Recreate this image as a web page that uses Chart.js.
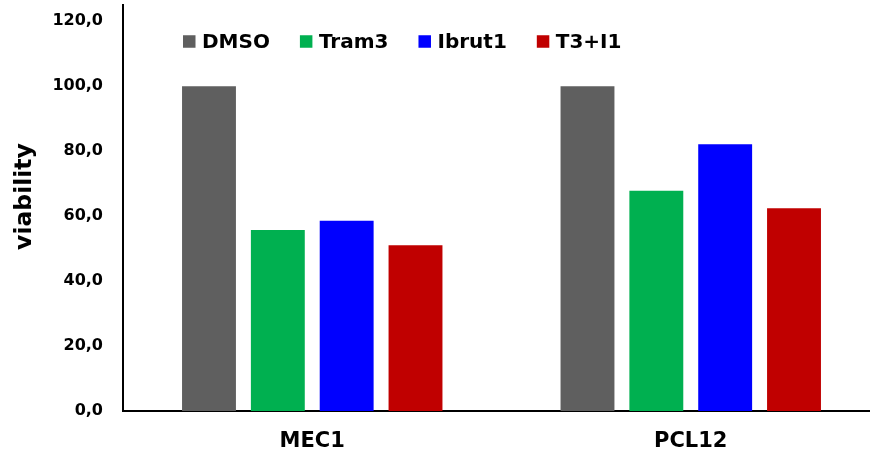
<!DOCTYPE html>
<html>
<head>
<meta charset="utf-8">
<script src="https://cdn.jsdelivr.net/npm/chart.js@4"></script>
<style>
  html, body { margin: 0; padding: 0; background: #fff; overflow: hidden; width: 870px; height: 457px; }
  #wrap { position: relative; width: 880px; height: 457px; }
</style>
</head>
<body>
<div id="wrap"><canvas id="c" width="880" height="457"></canvas></div>
<script>
// ---- data ----
const categories = ['MEC1', 'PCL12'];
const seriesNames = ['DMSO', 'Tram3', 'Ibrut1', 'T3+I1'];
const dmso   = [100.0, 100.0];
const tram3  = [55.7, 67.8];
const ibrut1 = [58.6, 82.1];
const t3i1   = [51.0, 62.4];
const yTicks = [0, 20, 40, 60, 80, 100, 120];
const yTitle = 'viability';

const colors = ['#5f5f5f', '#00b050', '#0000ff', '#c00000'];
const values = [dmso, tram3, ibrut1, t3i1];

const FONT = '"DejaVu Sans", sans-serif';

const overlay = {
  id: 'overlay',
  afterDraw(chart) {
    const ctx = chart.ctx;
    ctx.save();
    // legend inside plot area
    ctx.font = 'bold 20px ' + FONT;
    ctx.textBaseline = 'middle';
    ctx.textAlign = 'left';
    let x = 183;
    const cy = 41.5;
    chart.data.datasets.forEach((ds) => {
      ctx.fillStyle = ds.backgroundColor;
      ctx.fillRect(x, cy - 6.25, 12.5, 12.5);
      ctx.fillStyle = '#000';
      const tx = x + 19;
      ctx.fillText(ds.label, tx, cy + 1);
      x = tx + ctx.measureText(ds.label).width + 30;
    });
    // y axis title
    const size = 23.5;
    ctx.font = 'bold ' + size + 'px ' + FONT;
    ctx.translate(25 + 0.262 * size, 196.5);
    ctx.rotate(-Math.PI / 2);
    ctx.textAlign = 'center';
    ctx.textBaseline = 'alphabetic';
    ctx.fillText(yTitle, 0, 0);
    ctx.restore();
  }
};

new Chart(document.getElementById('c'), {
  type: 'bar',
  data: {
    labels: categories,
    datasets: seriesNames.map((n, i) => ({
      label: n,
      data: values[i],
      backgroundColor: colors[i],
      borderWidth: 0,
      categoryPercentage: 0.7275,
      barPercentage: 0.783
    }))
  },
  options: {
    responsive: false,
    devicePixelRatio: 1,
    animation: false,
    layout: { autoPadding: false, padding: { top: 5, right: 0, bottom: 0, left: 0 } },
    plugins: {
      legend: { display: false },
      tooltip: { enabled: false },
      title: { display: false }
    },
    scales: {
      x: {
        grid: { display: false, drawTicks: false },
        border: { display: true, color: '#000', width: 2 },
        ticks: {
          color: '#000',
          font: { family: FONT, weight: 'bold', size: 21 },
          padding: 18
        },
        afterFit(scale) {
          scale.height = 46;
          scale.paddingLeft = 0; scale.paddingRight = 0;
          scale.paddingTop = 0; scale.paddingBottom = 0;
        }
      },
      y: {
        min: 0,
        max: 125,
        grid: { display: false, drawTicks: false },
        border: { display: true, color: '#000', width: 2 },
        afterBuildTicks(scale) { scale.ticks = yTicks.map(v => ({ value: v })); },
        ticks: {
          color: '#000',
          font: { family: FONT, weight: 'bold', size: 16 },
          padding: 20,
          callback: (v) => Number(v).toFixed(1).replace('.', ',')
        },
        afterFit(scale) {
          scale.width = 123;
          scale.paddingTop = 0; scale.paddingBottom = 0;
          scale.paddingLeft = 0; scale.paddingRight = 0;
        }
      }
    }
  },
  plugins: [overlay]
});
</script>
</body>
</html>
